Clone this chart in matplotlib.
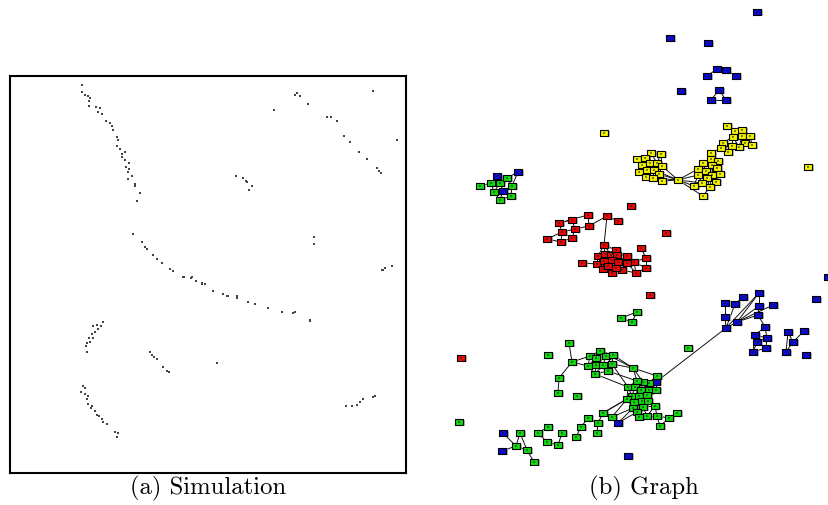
import numpy as np
import matplotlib
matplotlib.use("Agg")
from matplotlib import pyplot as plt
from matplotlib.path import Path

# --- (a) simulation: particle positions (pixel frame of the panel box) ---
sim_x = [82, 82, 85, 88, 90, 89, 89, 96, 100, 98, 102, 106, 110, 112, 113, 117, 118,
         117, 120, 125, 122, 122, 125, 129, 126, 129, 128, 132, 128, 135, 135, 140, 137,
         133, 142, 145, 147, 153, 157, 162, 170, 173, 183, 192, 184, 191, 196, 202,
         297, 295, 300, 373, 274, 308, 327, 331, 337, 344, 350, 397, 359, 367, 377, 379, 381,
         236, 243, 246, 247, 252, 249, 314, 314, 392, 385, 383,
         202, 205, 213, 223, 227, 228, 237, 237, 248, 255, 268, 282, 295, 293, 310, 310,
         217, 346, 352, 357, 360, 363, 373, 375, 382,
         103, 101, 97, 93, 98, 95, 92, 89, 93, 90, 87, 86, 87,
         150, 152, 154, 157, 163, 167, 169,
         83, 85, 81, 85, 88, 87, 88, 92, 91, 95, 97, 99, 102, 103, 107, 115, 118, 117]
sim_y = [86, 93, 96, 97, 99, 102, 107, 108, 109, 113, 115, 122, 124, 127, 131, 138, 141,
         147, 150, 153, 155, 158, 161, 164, 168, 170, 173, 177, 180, 185, 187, 194, 202,
         235, 243, 248, 250, 256, 260, 264, 270, 272, 278, 278, 278, 279, 282, 285,
         94, 96, 97, 92, 111, 105, 118, 118, 122, 137, 143, 141, 153, 160, 169, 172, 174,
         177, 179, 182, 183, 187, 191, 238, 245, 267, 269, 271,
         284, 285, 292, 295, 297, 297, 297, 299, 303, 305, 309, 313, 313, 314, 321, 322,
         364, 407, 407, 406, 403, 400, 398, 397, 271,
         323, 327, 326, 327, 330, 333, 335, 339, 339, 343, 344, 347, 353,
         353, 356, 358, 360, 368, 372, 373,
         387, 389, 393, 395, 397, 400, 405, 407, 409, 412, 416, 417, 420, 423, 425, 433, 434, 438]

# --- (b) graph: node positions, colour code per node ---
iso_nodes = [(757, 13, 'b'), (670, 39, 'b'), (708, 44, 'b'), (681, 92, 'b'),
             (828, 278, 'b'), (816, 300, 'b'), (628, 457, 'b'),
             (604, 134, 'y'), (808, 168, 'y'),
             (631, 207, 'r'), (666, 234, 'r'), (650, 296, 'r'), (461, 359, 'r'),
             (548, 356, 'g'), (577, 397, 'g'), (459, 423, 'g'), (688, 349, 'g')]

blue_arc = [(707, 77, 'b'), (717, 70, 'b'), (726, 71, 'b'), (736, 77, 'b')]
blue_arc_edges = [(0, 1), (1, 2), (2, 3)]

blue_tri = [(719, 91, 'b'), (711, 101, 'b'), (726, 101, 'b')]
blue_tri_edges = [(0, 1), (1, 2), (0, 2)]

yellow = [(637, 160, 'y'), (651, 154, 'y'), (661, 155, 'y'), (645, 159, 'y'), (642, 166, 'y'),
          (650, 164, 'y'), (657, 164, 'y'), (662, 167, 'y'), (639, 173, 'y'), (647, 171, 'y'),
          (654, 171, 'y'), (659, 175, 'y'), (646, 178, 'y'), (653, 179, 'y'), (662, 182, 'y'),
          (678, 181, 'y'),
          (711, 154, 'y'), (711, 160, 'y'), (718, 162, 'y'), (703, 164, 'y'), (712, 166, 'y'),
          (717, 169, 'y'), (698, 170, 'y'), (706, 172, 'y'), (720, 175, 'y'), (698, 176, 'y'),
          (712, 176, 'y'), (707, 179, 'y'), (716, 183, 'y'), (702, 184, 'y'), (694, 187, 'y'),
          (710, 188, 'y'), (703, 197, 'y'),
          (727, 127, 'y'), (735, 132, 'y'), (742, 131, 'y'), (733, 138, 'y'), (742, 137, 'y'),
          (750, 137, 'y'), (745, 144, 'y'), (752, 146, 'y'), (739, 148, 'y'), (732, 147, 'y'),
          (723, 144, 'y'), (728, 153, 'y'), (721, 149, 'y')]
yellow_edges = [(15, 7), (15, 11), (15, 14), (15, 13), (15, 22), (15, 25), (15, 30),
                (15, 29), (15, 32), (15, 10)]

green_tl = [(518, 173, 'b'), (497, 177, 'b'), (480, 187, 'g'), (491, 184, 'g'), (500, 184, 'g'),
            (507, 179, 'g'), (512, 187, 'g'), (494, 193, 'g'), (503, 192, 'b'), (511, 197, 'g'),
            (500, 201, 'g')]
green_tl_edges = [(0, 5), (0, 6)]

red = [(588, 216, 'r'), (572, 221, 'r'), (559, 224, 'r'), (575, 230, 'r'), (589, 227, 'r'),
       (562, 233, 'r'), (547, 240, 'r'), (561, 243, 'r'), (572, 239, 'r'), (607, 217, 'r'),
       (618, 222, 'r'),
       (604, 246, 'r'), (582, 264, 'r'), (598, 257, 'r'), (597, 265, 'r'), (604, 262, 'r'),
       (605, 255, 'r'), (611, 256, 'r'), (616, 251, 'r'), (617, 256, 'r'), (612, 261, 'r'),
       (618, 263, 'r'), (627, 257, 'r'), (634, 263, 'r'), (627, 264, 'r'), (641, 249, 'r'),
       (646, 259, 'r'), (646, 269, 'r'), (636, 274, 'r'), (622, 271, 'r'), (612, 274, 'r'),
       (603, 270, 'r'), (608, 267, 'r'), (616, 269, 'r')]
red_edges = [(4, 9), (9, 11), (2, 0), (6, 5), (12, 14)]

green_trio = [(637, 313, 'g'), (621, 319, 'g'), (632, 323, 'g')]
green_trio_edges = [(0, 1), (1, 2), (0, 2)]

blue_right = [(759, 294, 'b'), (743, 298, 'b'), (725, 304, 'b'), (735, 305, 'b'), (773, 306, 'b'),
              (759, 307, 'b'), (725, 318, 'b'), (758, 316, 'b'), (737, 323, 'b'), (726, 329, 'b'),
              (765, 328, 'b'), (755, 336, 'b'), (767, 339, 'b'), (757, 343, 'b'), (766, 349, 'b'),
              (753, 353, 'b')]
blue_right_edges = [(2, 6), (6, 9), (3, 9), (1, 3), (9, 0), (8, 0), (8, 5), (8, 4), (8, 7),
                    (7, 10), (10, 11), (10, 12), (11, 12), (11, 13), (12, 13), (13, 14),
                    (13, 15), (12, 14), (11, 15), (14, 15), (0, 5), (5, 7), (9, 8)]

blue_far = [(788, 333, 'b'), (804, 332, 'b'), (793, 343, 'b'), (786, 353, 'b'), (806, 356, 'b')]
blue_far_edges = [(0, 2), (1, 2), (0, 3), (2, 3)]

green_big = [(569, 344, 'g'), (572, 363, 'g'), (559, 379, 'g'), (558, 394, 'g'),
             (590, 357, 'g'), (600, 352, 'g'), (606, 357, 'g'), (613, 356, 'g'), (596, 359, 'g'),
             (588, 367, 'g'), (596, 366, 'g'), (603, 366, 'g'), (612, 365, 'g'), (608, 372, 'g'),
             (595, 375, 'g'), (633, 369, 'g'),
             (657, 377, 'g'), (656, 383, 'b'), (649, 384, 'g'), (643, 383, 'g'), (637, 382, 'g'),
             (628, 388, 'g'), (635, 388, 'g'), (641, 391, 'g'), (649, 391, 'g'), (656, 391, 'g'),
             (632, 397, 'g'), (639, 397, 'g'), (647, 396, 'g'), (627, 400, 'g'), (634, 403, 'g'),
             (642, 402, 'g'), (648, 402, 'g'), (655, 407, 'g'), (633, 409, 'g'), (643, 408, 'g'),
             (637, 413, 'g'), (639, 418, 'g'), (647, 417, 'g'), (657, 417, 'g'), (660, 427, 'g'),
             (669, 419, 'g'), (677, 414, 'g'),
             (603, 414, 'g'), (612, 418, 'g'), (588, 419, 'g'), (598, 424, 'g'), (618, 424, 'b'),
             (581, 428, 'g'), (597, 434, 'g'), (576, 438, 'g'), (562, 434, 'g'), (548, 428, 'g'),
             (538, 434, 'g'), (547, 443, 'g'), (558, 446, 'g')]
green_big_edges = [(0, 1), (1, 2), (2, 3), (1, 4), (1, 9), (7, 15), (12, 15), (13, 20),
                   (15, 19), (15, 16), (12, 21), (5, 15), (14, 21), (43, 29), (44, 29),
                   (44, 34), (47, 34), (43, 26), (47, 36)]

lower_left = [(503, 434, 'b'), (502, 452, 'b'), (520, 434, 'g'), (516, 447, 'g'),
              (527, 451, 'g'), (534, 463, 'g')]
lower_left_edges = [(0, 3), (1, 3), (2, 3), (2, 4), (3, 4), (4, 5)]

# long link between the blue group and the big green group
bridge = [((726, 329), (656, 383))]

palette = {'b': '#0a0ad6', 'r': '#ee0606', 'g': '#12d812', 'y': '#f2f200'}

# cluster list: nodes, neighbour radius for auto edges, explicit edges
clusters = [
    (blue_arc, 0, blue_arc_edges),
    (blue_tri, 0, blue_tri_edges),
    (yellow, 12.5, yellow_edges),
    (green_tl, 12, green_tl_edges),
    (red, 15, red_edges),
    (green_trio, 0, green_trio_edges),
    (blue_right, 0, blue_right_edges),
    (blue_far, 0, blue_far_edges),
    (green_big, 14, green_big_edges),
    (lower_left, 0, lower_left_edges),
]

fig = plt.figure(figsize=(8.29, 5.06), dpi=100)
W, H = 829, 506

# left panel
ax1 = fig.add_axes([10 / W, (H - 474) / H, 396 / W, 397 / H])
ax1.set_xlim(10, 406)
ax1.set_ylim(474, 77)
ax1.set_xticks([])
ax1.set_yticks([])
for s in ax1.spines.values():
    s.set_linewidth(1.5)
ax1.scatter(sim_x, sim_y, s=3.2, marker='s', c='#444444', linewidths=0)

# right panel
ax2 = fig.add_axes([440 / W, (H - 470) / H, 389 / W, 470 / H])
ax2.set_xlim(440, 829)
ax2.set_ylim(470, 0)
ax2.axis('off')

rect = Path([(-1.5, -1.0), (1.5, -1.0), (1.5, 1.0), (-1.5, 1.0), (-1.5, -1.0)],
            [Path.MOVETO, Path.LINETO, Path.LINETO, Path.LINETO, Path.CLOSEPOLY])

segs = []
all_nodes = list(iso_nodes)
for nodes, rad, extra in clusters:
    pts = np.array([(n[0], n[1]) for n in nodes], dtype=float)
    if rad > 0:
        for i in range(len(pts)):
            for j in range(i + 1, len(pts)):
                if np.hypot(*(pts[i] - pts[j])) < rad:
                    segs.append((pts[i], pts[j]))
    for i, j in extra:
        segs.append((pts[i], pts[j]))
    all_nodes += nodes
for a, b in bridge:
    segs.append((np.array(a, float), np.array(b, float)))

for a, b in segs:
    ax2.plot([a[0], b[0]], [a[1], b[1]], color='#111111', lw=0.7, zorder=1)

nx = np.array([n[0] for n in all_nodes], dtype=float)
ny = np.array([n[1] for n in all_nodes], dtype=float)
nc = [palette[n[2]] for n in all_nodes]

# soft grey halo, then the node box, then the tiny label mark
ax2.scatter(nx + 0.6, ny + 0.6, s=54, marker=rect, c='#9a9a9a', linewidths=0,
            alpha=0.7, zorder=2)
ax2.scatter(nx, ny, s=38, marker=rect, c=nc, edgecolors='black', linewidths=0.8, zorder=3)
ax2.scatter(nx, ny, s=4, marker=rect, c='#202020', linewidths=0, alpha=0.55, zorder=4)

fig.text(208 / W, 1 - 488 / H, '(a) Simulation', ha='center', va='center',
         family='cmr10', fontsize=17.8)
fig.text(644 / W, 1 - 488 / H, '(b) Graph', ha='center', va='center',
         family='cmr10', fontsize=17.8)

fig.savefig('out.png', dpi=100)
